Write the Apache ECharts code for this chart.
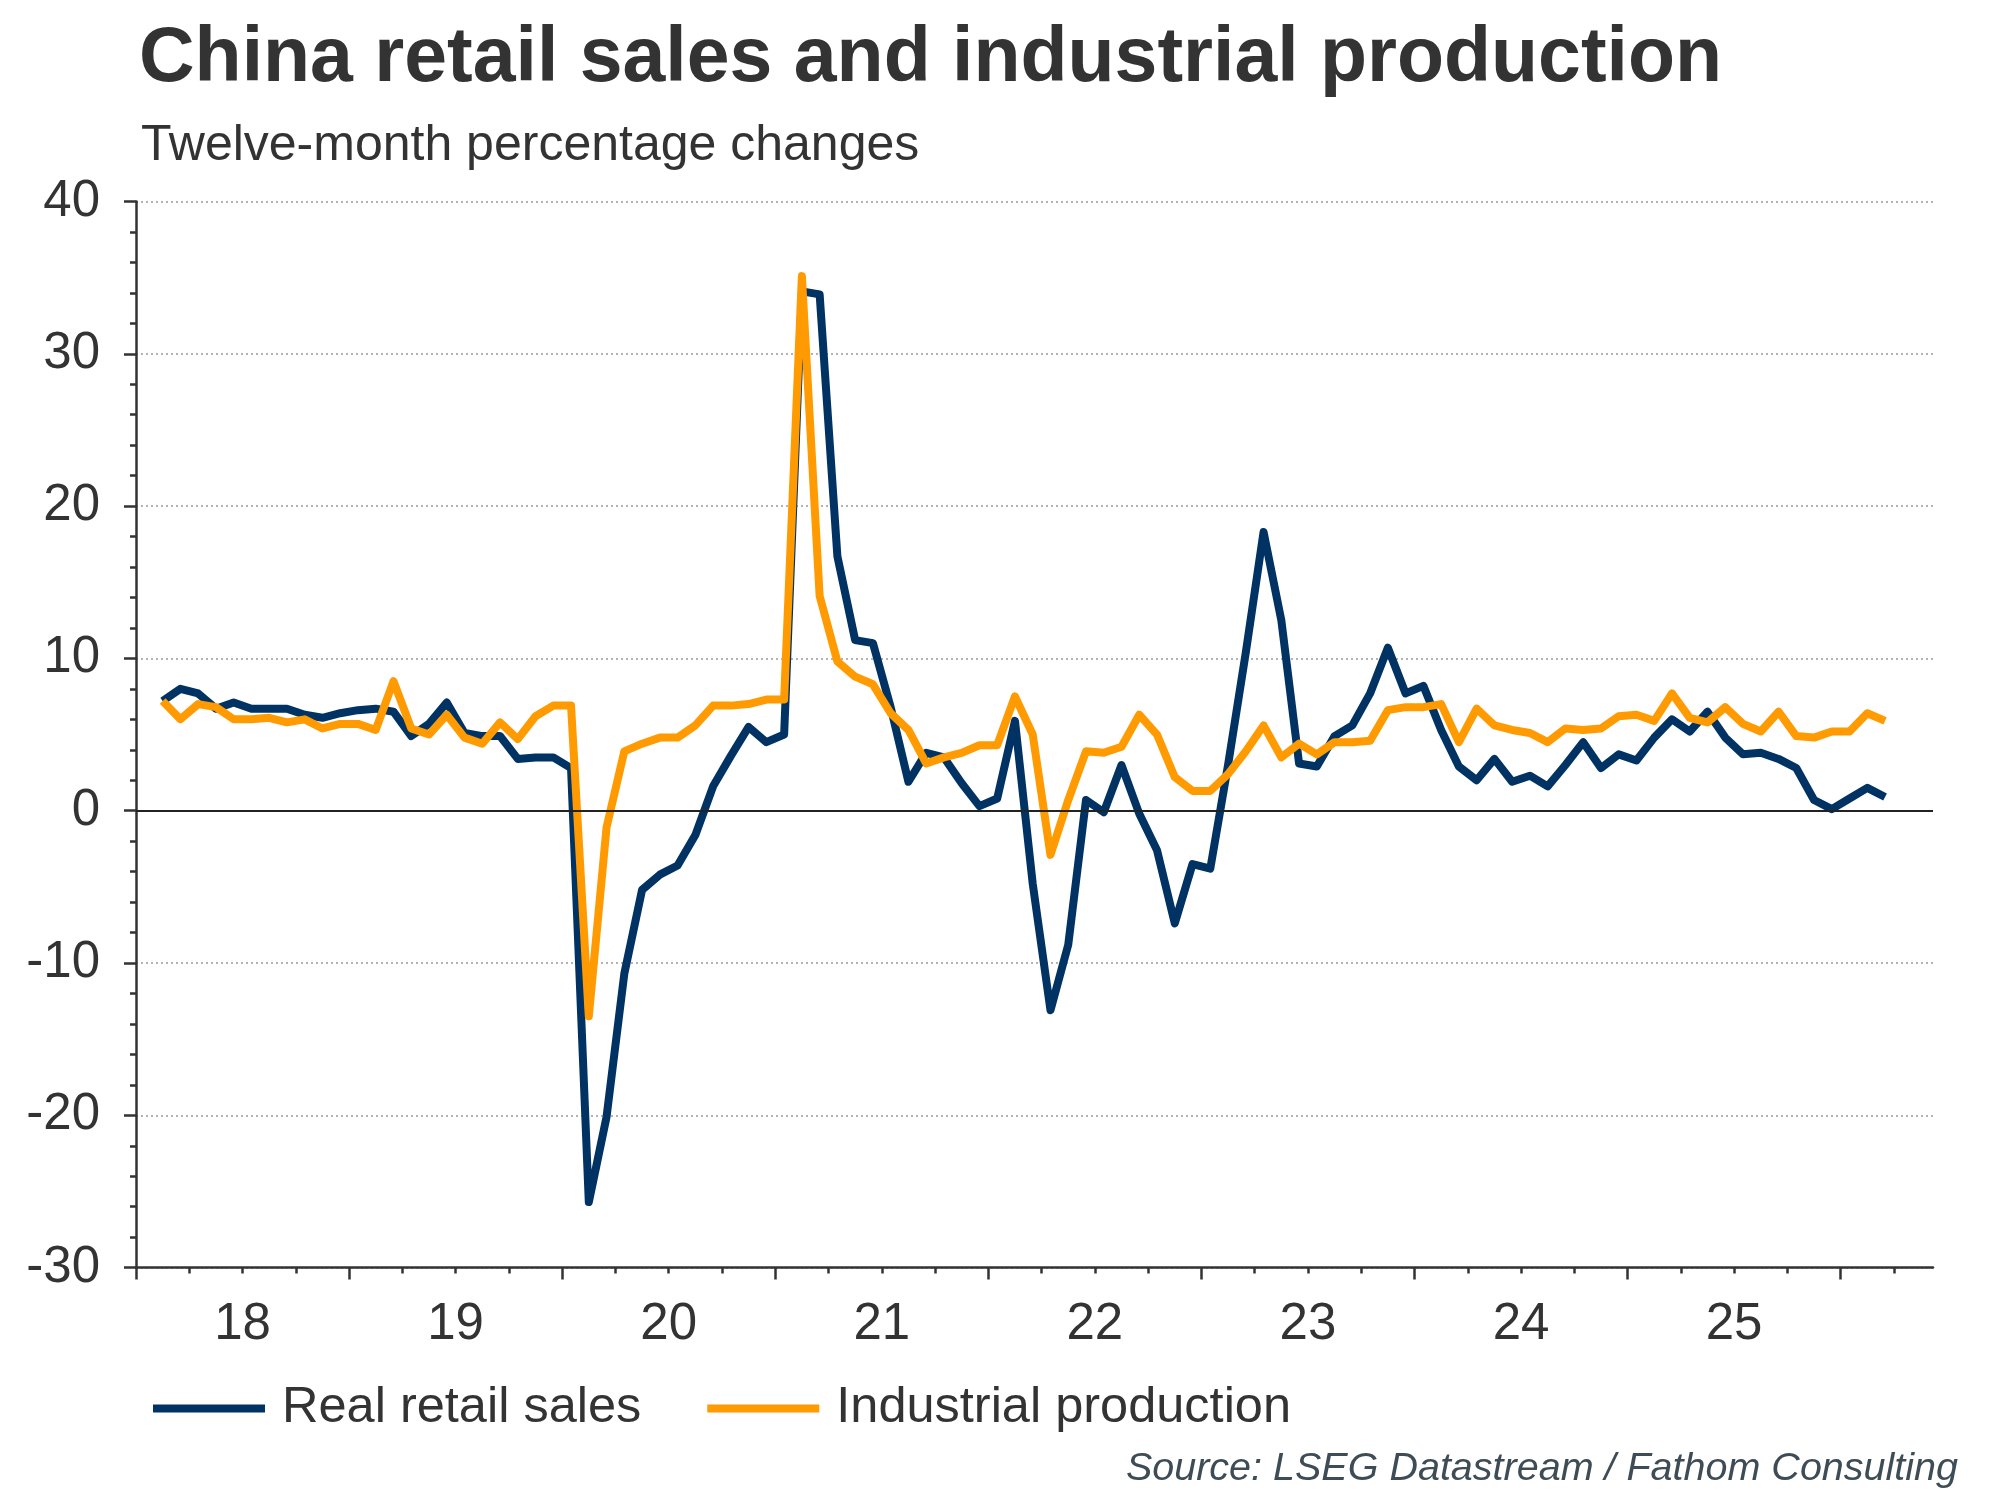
<!DOCTYPE html>
<html>
<head>
<meta charset="utf-8">
<script src="https://cdn.jsdelivr.net/npm/echarts@6/dist/echarts.min.js"></script>
<style>html,body{margin:0;padding:0;background:#fff}#c{width:2000px;height:1500px}</style>
</head>
<body>
<div id="c"></div>
<script>
const titleText = 'China retail sales and industrial production';
const subtitleText = 'Twelve-month percentage changes';
const sourceText = 'Source: LSEG Datastream / Fathom Consulting';
const seriesNames = ['Real retail sales', 'Industrial production'];

// first observation: February 2018, monthly thereafter
const startYear = 2018;
const startMonth = 2;

const retailSales = [
  7.2, 8.0, 7.7, 6.7, 7.1, 6.7, 6.7, 6.7, 6.3, 6.1, 6.4,
  6.6, 6.7, 6.5, 4.9, 5.7, 7.1, 5.1, 4.9, 4.9, 3.4, 3.5, 3.5,
  2.8, -25.7, -20.1, -10.7, -5.2, -4.2, -3.6, -1.6, 1.6, 3.6, 5.5, 4.5,
  5.0, 34.1, 33.9, 16.7, 11.2, 11.0, 6.8, 1.9, 3.8, 3.5, 1.8, 0.3,
  0.8, 5.9, -4.8, -13.1, -8.8, 0.7, -0.1, 3.0, -0.2, -2.6, -7.4, -3.5,
  -3.8, 3.0, 10.4, 18.3, 12.5, 3.1, 2.9, 4.9, 5.6, 7.7, 10.7, 7.7,
  8.2, 5.3, 2.9, 2.0, 3.4, 1.9, 2.3, 1.6, 3.0, 4.5, 2.8, 3.7,
  3.3, 4.8, 6.0, 5.2, 6.5, 4.8, 3.7, 3.8, 3.4, 2.8, 0.7, 0.1,
  0.8, 1.5, 0.9
];
const industrialProduction = [
  7.2, 6.0, 7.0, 6.8, 6.0, 6.0, 6.1, 5.8, 6.0, 5.4, 5.7,
  5.7, 5.3, 8.5, 5.4, 5.0, 6.3, 4.8, 4.4, 5.8, 4.7, 6.2, 6.9,
  6.9, -13.5, -1.1, 3.9, 4.4, 4.8, 4.8, 5.6, 6.9, 6.9, 7.0, 7.3,
  7.3, 35.1, 14.1, 9.8, 8.8, 8.3, 6.4, 5.3, 3.1, 3.5, 3.8, 4.3,
  4.3, 7.5, 5.0, -2.9, 0.7, 3.9, 3.8, 4.2, 6.3, 5.0, 2.2, 1.3,
  1.3, 2.4, 3.9, 5.6, 3.5, 4.4, 3.7, 4.5, 4.5, 4.6, 6.6, 6.8,
  6.8, 7.0, 4.5, 6.7, 5.6, 5.3, 5.1, 4.5, 5.4, 5.3, 5.4, 6.2,
  6.3, 5.9, 7.7, 6.1, 5.8, 6.8, 5.7, 5.2, 6.5, 4.9, 4.8, 5.2,
  5.2, 6.4, 5.9
];
const yearLabels = ['18', '19', '20', '21', '22', '23', '24', '25'];
const yMin = -30, yMax = 40, yStep = 10;

// month categories (YYYY-MM) and their position in months since Jan 2018 (centre of month)
const months = [];
for (let i = 0; i < retailSales.length; i++) {
  const idx = (startMonth - 1) + i;
  const y = startYear + Math.floor(idx / 12);
  const m = (idx % 12) + 1;
  months.push(y + '-' + (m < 10 ? '0' + m : m));
}
function monthPos(label) {
  const p = label.split('-');
  return (parseInt(p[0], 10) - startYear) * 12 + (parseInt(p[1], 10) - 1) + 0.5;
}
const xMax = 101.2;
const quarterTicks = [];
for (let q = 0; q <= 99; q += 3) quarterTicks.push(q);
const yearTicks = yearLabels.map((_, i) => i * 12).concat([yearLabels.length * 12]);
const labelPos = yearLabels.map((_, i) => i * 12 + 6);

const FONT = '"Liberation Sans", Arial, Helvetica, sans-serif';
const AXIS = '#333333';

const chart = echarts.init(document.getElementById('c'), null, {renderer: 'canvas'});
const option = {
  animation: false,
  backgroundColor: '#ffffff',
  title: [
    {text: titleText, left: 134, top: 16, padding: 5,
     textStyle: {fontFamily: FONT, fontSize: 77, fontWeight: 'bold', color: '#333333'}},
    {text: subtitleText, left: 136, top: 116, padding: 5,
     textStyle: {fontFamily: FONT, fontSize: 50, fontWeight: 'normal', color: '#333333'}},
    {text: sourceText, right: 37, top: 1444, padding: 5,
     textStyle: {fontFamily: FONT, fontSize: 39.5, fontWeight: 'normal', fontStyle: 'italic', color: '#3e4c56'}}
  ],
  legend: {
    data: seriesNames, left: 148, top: 1378, icon: 'rect',
    itemWidth: 112, itemHeight: 8, itemGap: 66,
    textStyle: {fontFamily: FONT, fontSize: 50.5, color: '#333333', padding: [0, 0, 0, 12]}
  },
  grid: {left: 136, top: 201.5, right: 67, bottom: 232.4, containLabel: false, outerBoundsMode: 'none'},
  xAxis: [
    {
      type: 'value', min: 0, max: xMax, position: 'bottom',
      axisLine: {show: true, onZero: false, lineStyle: {color: AXIS, width: 2.5}},
      axisTick: {show: true, customValues: quarterTicks, length: 6, lineStyle: {color: AXIS, width: 2.5}},
      axisLabel: {show: true, customValues: labelPos, margin: 32,
        formatter: v => yearLabels[Math.round((v - 6) / 12)] || '',
        fontFamily: FONT, fontSize: 51, color: '#333333'},
      splitLine: {show: false}
    },
    {
      type: 'value', min: 0, max: xMax, position: 'bottom',
      axisLine: {show: false, onZero: false},
      axisTick: {show: true, customValues: yearTicks.filter(v => v <= xMax), length: 12, lineStyle: {color: AXIS, width: 2.5}},
      axisLabel: {show: false},
      splitLine: {show: false}
    }
  ],
  yAxis: {
    type: 'value', min: yMin, max: yMax, interval: yStep,
    axisLine: {show: true, lineStyle: {color: AXIS, width: 2.5}},
    axisTick: {show: true, length: 12, lineStyle: {color: AXIS, width: 2.5}},
    minorTick: {show: true, splitNumber: 5, length: 6, lineStyle: {color: AXIS, width: 2.5}},
    axisLabel: {margin: 36, fontFamily: FONT, fontSize: 51, color: '#333333'},
    splitLine: {show: true, lineStyle: {color: '#9a9a9a', width: 1.5, type: [2, 3]}},
    minorSplitLine: {show: false}
  },
  series: [
    {
      name: seriesNames[0], type: 'line', xAxisIndex: 0, showSymbol: false, symbol: 'none',
      data: months.map((m, i) => [monthPos(m), retailSales[i]]),
      lineStyle: {color: '#003363', width: 8, join: 'round'},
      itemStyle: {color: '#003363'},
      z: 3,
      markLine: {
        silent: true, symbol: ['none', 'none'], animation: false,
        label: {show: false},
        lineStyle: {color: '#222222', width: 2.2, type: 'solid'},
        data: [{yAxis: 0}]
      }
    },
    {
      name: seriesNames[1], type: 'line', xAxisIndex: 0, showSymbol: false, symbol: 'none',
      data: months.map((m, i) => [monthPos(m), industrialProduction[i]]),
      lineStyle: {color: '#ff9a00', width: 8, join: 'round'},
      itemStyle: {color: '#ff9a00'},
      z: 4
    }
  ]
};
chart.setOption(option);
</script>
</body>
</html>
